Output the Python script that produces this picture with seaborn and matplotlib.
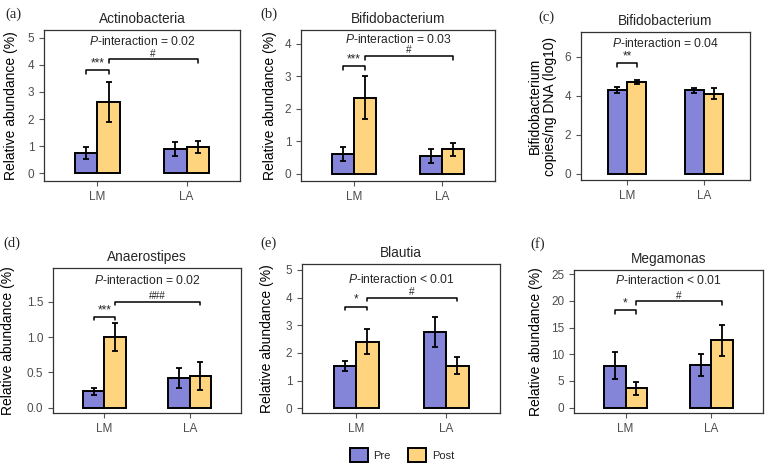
import pandas as pd
import matplotlib
matplotlib.use("Agg")
import matplotlib.pyplot as plt
import seaborn as sns

# Data (means and SE)
groups = ["LM", "LA"]
times = ["Pre", "Post"]

titles = ["Actinobacteria", "Bifidobacterium", "Bifidobacterium",
          "Anaerostipes", "Blautia", "Megamonas"]
letters = ["(a)", "(b)", "(c)", "(d)", "(e)", "(f)"]
ylabels = ["Relative abundance (%)", "Relative abundance (%)",
           "Bifidobacterium\ncopies/ng DNA (log10)",
           "Relative abundance (%)", "Relative abundance (%)",
           "Relative abundance (%)"]

# order: LM-Pre, LA-Pre, LM-Post, LA-Post
actino_mean = [0.76, 0.90, 2.63, 0.97]
actino_se = [0.22, 0.27, 0.72, 0.23]
bifido_mean = [0.62, 0.55, 2.35, 0.76]
bifido_se = [0.22, 0.21, 0.67, 0.20]
bifcopy_mean = [4.29, 4.29, 4.72, 4.12]
bifcopy_se = [0.14, 0.12, 0.10, 0.27]
anaero_mean = [0.23, 0.42, 1.00, 0.45]
anaero_se = [0.05, 0.14, 0.20, 0.195]
blautia_mean = [1.53, 2.76, 2.41, 1.54]
blautia_se = [0.19, 0.53, 0.45, 0.30]
mega_mean = [7.9, 8.0, 3.6, 12.6]
mega_se = [2.6, 2.1, 1.3, 2.9]

means = [actino_mean, bifido_mean, bifcopy_mean, anaero_mean, blautia_mean, mega_mean]
ses = [actino_se, bifido_se, bifcopy_se, anaero_se, blautia_se, mega_se]

p_text = ["= 0.02", "= 0.03", "= 0.04", "= 0.02", "< 0.01", "< 0.01"]
time_sig = ["***", "***", "**", "***", "*", "*"]
group_sig = ["#", "#", None, "###", "#", "#"]

yticks = [[0, 1, 2, 3, 4, 5], [0, 1, 2, 3, 4], [0, 2, 4, 6],
          [0.0, 0.5, 1.0, 1.5], [0, 1, 2, 3, 4, 5], [0, 5, 10, 15, 20, 25]]
ytick_labels = [["0", "1", "2", "3", "4", "5"], ["0", "1", "2", "3", "4"],
                ["0", "2", "4", "6"], ["0.0", "0.5", "1.0", "1.5"],
                ["0", "1", "2", "3", "4", "5"], ["0", "5", "10", "15", "20", "25"]]

# Layout (pixels) and annotation heights
W, H = 769, 468
boxes = [(44, 30, 240, 181), (301, 30, 495, 181), (581, 32, 750, 180),
         (53, 268, 241, 413), (302, 264, 500, 413), (574, 270, 763, 413)]
ylims = [(-0.28, 5.28), (-0.22, 4.43), (-0.31, 7.27),
         (-0.075, 1.98), (-0.17, 5.21), (-1.0, 25.8)]
p_y = [4.84, 4.14, 6.66, 1.80, 4.66, 23.9]
time_br = [3.81, 3.32, 5.69, 1.29, 3.67, 18.3]
group_br = [4.2, 3.63, None, 1.50, 4.0, 19.9]
ylab_right = [18, 277, 557, 15, 274, 543]
letter_pos = [(5, 14), (260, 14), (538, 17), (3, 243), (260, 243), (530, 244)]

pre_col = "#8484d8"
post_col = "#ffd47e"

sns.set_style("ticks")
plt.rcParams['font.family'] = ['Liberation Sans', 'DejaVu Sans']
plt.rcParams['mathtext.fontset'] = 'custom'
plt.rcParams['mathtext.rm'] = 'Liberation Sans'
plt.rcParams['mathtext.it'] = 'Liberation Sans:italic'

fig = plt.figure(figsize=(W / 100, H / 100), dpi=100)

handles = None
for i in range(6):
    l, t, r, b = boxes[i]
    ax = fig.add_axes([l / W, 1 - b / H, (r - l) / W, (b - t) / H])
    df = pd.DataFrame({
        "group": groups * 2,
        "time": [times[0]] * 2 + [times[1]] * 2,
        "mean": means[i],
    })
    sns.barplot(data=df, x="group", y="mean", hue="time", order=groups,
                hue_order=times, palette=[pre_col, post_col], saturation=1,
                width=0.5, edgecolor="black", linewidth=1.4, errorbar=None,
                ax=ax)
    if handles is None:
        handles, labels = ax.get_legend_handles_labels()
    ax.get_legend().remove()

    # error bars from bar geometry
    bar_conts = list(ax.containers)
    centers = {}
    k = 0
    for hi, cont in enumerate(bar_conts):
        for gi, bar in enumerate(cont):
            x = bar.get_x() + bar.get_width() / 2
            h = bar.get_height()
            centers[(times[hi], groups[gi])] = x
            ax.errorbar(x, h, yerr=ses[i][k], fmt="none", ecolor="black",
                        elinewidth=1.3, capsize=2, capthick=1.3, zorder=5)
            k += 1

    ax.set_xlim(-0.6, 1.6)
    ax.set_ylim(*ylims[i])
    ax.set_yticks(yticks[i])
    ax.set_yticklabels(ytick_labels[i])
    ax.set_xlabel("")
    ax.set_ylabel(ylabels[i], fontsize=10, color="black", linespacing=1.1)
    ax.yaxis.set_label_coords((ylab_right[i] - l) / (r - l), 0.5)
    ax.set_title(titles[i], fontsize=9.8, pad=5)
    ax.tick_params(axis="both", colors="#555555", labelcolor="#4d4d4d",
                   labelsize=8.5, length=3.5, width=0.8)
    for s in ax.spines.values():
        s.set_color("#333333")
        s.set_linewidth(0.9)
        s.set_visible(True)

    yr = ylims[i][1] - ylims[i][0]
    tip = yr * 0.025
    ax.text(0.5, p_y[i], r"$\it{P}$-interaction " + p_text[i],
            ha="center", va="center", fontsize=8.7)

    x1 = centers[("Pre", "LM")]
    x2 = centers[("Post", "LM")]
    yb = time_br[i]
    ax.plot([x1, x1, x2, x2], [yb - tip, yb, yb, yb - tip], color="black", lw=1.1)
    ax.text((x1 + x2) / 2, yb + tip * 0.2, time_sig[i], ha="center",
            va="bottom", fontsize=8.5)
    if group_sig[i] is not None:
        x3 = centers[("Post", "LA")]
        yg = group_br[i]
        ax.plot([x2, x2, x3, x3], [yg - tip, yg, yg, yg - tip], color="black", lw=1.1)
        ax.text((x2 + x3) / 2, yg + tip * 0.2, group_sig[i], ha="center",
                va="bottom", fontsize=7.2)

    fig.text(letter_pos[i][0] / W, 1 - letter_pos[i][1] / H, letters[i],
             family=["Liberation Serif", "DejaVu Serif"], fontsize=10.5,
             ha="left", va="center")

fig.legend(handles, labels, loc="center", bbox_to_anchor=(402 / W, 1 - 455 / H),
           ncol=2, frameon=False, fontsize=8, handlelength=1.6,
           handleheight=1.6, columnspacing=1.6, handletextpad=0.5)

fig.savefig("out.png", dpi=100)
